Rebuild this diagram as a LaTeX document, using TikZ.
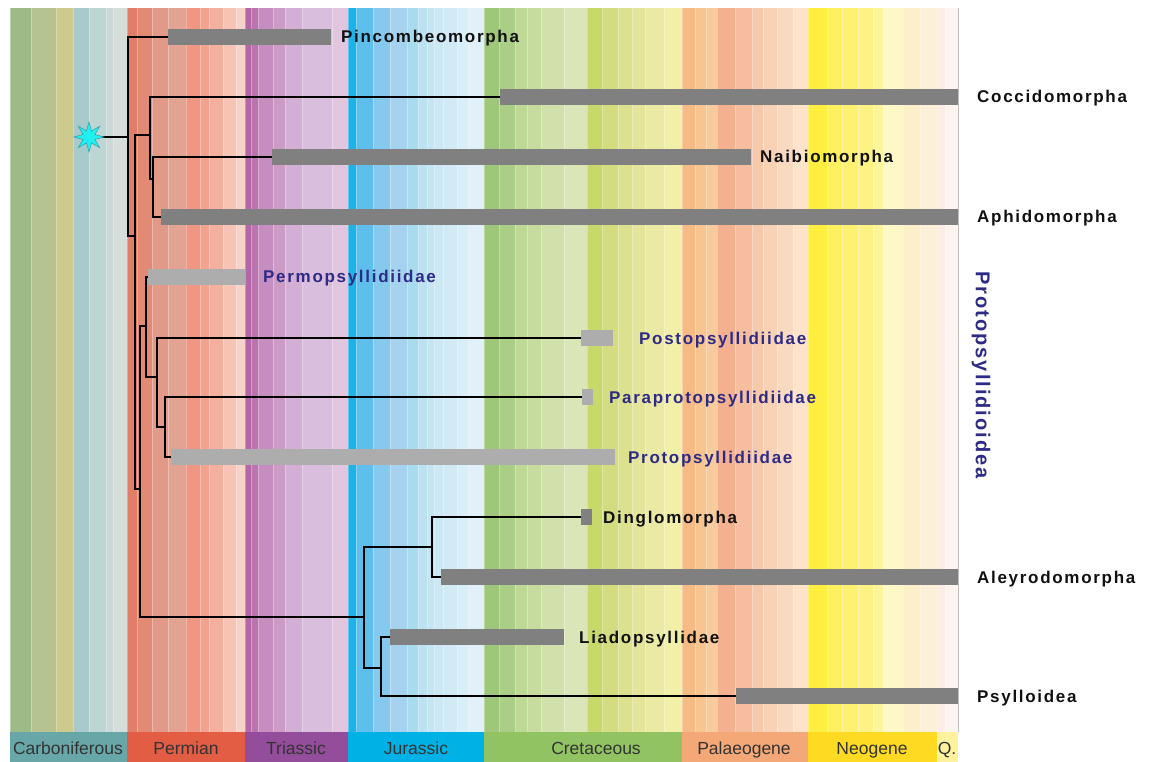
\documentclass[tikz,border=0pt]{standalone}
\usepackage{fontspec}
\usetikzlibrary{shapes.geometric}
\newfontfamily\labfont{Liberation Sans}[LetterSpace=10]
\newfontfamily\perfont{Liberation Sans}
\definecolor{barD}{HTML}{808080}
\definecolor{barL}{HTML}{ADADAD}
\definecolor{blueLab}{HTML}{2E2B86}
\definecolor{blackLab}{HTML}{111111}
\definecolor{perText}{HTML}{333333}
\definecolor{starFill}{HTML}{22EEF0}
\definecolor{starLine}{HTML}{2A9FA6}
\tikzset{
  br/.style={draw=black, line width=2.1pt, line join=miter},
  bardark/.style={fill=barD, draw=none, inner sep=0pt, minimum height=16pt, anchor=west},
  barlight/.style={fill=barL, draw=none, inner sep=0pt, minimum height=16pt, anchor=west},
  blab/.style={font=\labfont\bfseries\fontsize{17}{19}\selectfont, text=blackLab, anchor=base west, inner sep=0pt},
  ulab/.style={font=\labfont\bfseries\fontsize{17}{19}\selectfont, text=blueLab, anchor=base west, inner sep=0pt},
  perlab/.style={font=\perfont\fontsize{17.5}{19}\selectfont, text=perText, inner sep=0pt, anchor=base}
}
\begin{document}
\begin{tikzpicture}[x=1pt,y=-1pt]
\useasboundingbox (0,0) rectangle (1154,762);
\fill[white] (0,0) rectangle (1154,762);
% background stripes
\foreach \a/\b/\c in {
10/31/9DBB86,31/56/B6C28F,56/73/CCCB8D,73/89/A9CACD,89/106/BED6D3,106/113/CAD9D7,113/127/D5DEDB,
127/137/E07E69,137/152/E38A75,152/168/E29987,168/186/E3A392,186/200/F09683,200/209/F2A38F,209/223/F4B09E,223/236/F6C3B5,236/245/F7D2C7,
245/251/B466A6,251/258/BB74AE,258/273/C58DC0,273/285/CC9CC7,285/302/D3AFD5,302/332/DABEDD,332/348/E2C6E0,
348/356/1DB3E9,356/373/5EBFEC,373/390/86C9EE,390/407/A5D3EF,407/418/A8DBEE,418/427/BCE2F1,427/434/C5E5F2,434/443/CCE8F5,443/457/D2EAF6,457/468/D8EEF8,468/484/E0F1FA,
484/499/9FC77A,499/515/ABCE87,515/527/BED895,527/541/C6DC9F,541/564/D1E1AB,564/587/DBE6B8,587/602/C8D86B,602/618/D3DC7E,618/632/DCE18E,632/645/E4E59B,645/664/EBEAA5,664/682/F1EFA8,
682/695/F6BB85,695/706/F8C490,706/717/F8CB9C,717/735/F4B08F,735/752/F6BE9E,752/763/F7C9AB,763/777/F9D2B5,777/793/FAD9C1,793/808/FCE3C9,
808/827/FDEE40,827/842/FEF05E,842/858/FEF172,858/873/FEF283,873/883/FDF59C,883/903/FEF8C8,903/920/FDEFC9,920/937/FDF0D9,937/945/FCEEE6,945/958/FDF4F0}
{
  \definecolor{tmpc}{HTML}{\c}
  \fill[tmpc] (\a,8) rectangle (\b,732);
  \draw[white, opacity=0.3, line width=0.7pt] (\a,8) -- (\a,732);
}
\draw[gray!50, line width=1.2pt] (958.5,8) -- (958.5,732);
% period bar
\foreach \a/\b/\c/\t/\m in {
10/127/68A7A8/Carboniferous/68,127/245/E35D45/Permian/186,245/348/944D9A/Triassic/296,348/484/00B1E5/Jurassic/416,
484/682/92C363/Cretaceous/596,682/808/F4A877/Palaeogene/744,808/937/FEDA22/Neogene/872,937/958/FFF29F/Q./947}
{
  \definecolor{tmpc}{HTML}{\c}
  \fill[tmpc] (\a,732) rectangle (\b,762);
  \node[perlab] (per\t) at (\m,754.3) {\t};
}
% bars
\node[bardark] (bPinc) at (168,37) [minimum width=163pt] {};
\node[bardark] (bCocci) at (500,97) [minimum width=458pt] {};
\node[bardark] (bNaib) at (272,157) [minimum width=479pt] {};
\node[bardark] (bAphid) at (161,217) [minimum width=797pt] {};
\node[barlight] (bPerm) at (148,277) [minimum width=97pt] {};
\node[barlight] (bPost) at (581,338) [minimum width=32pt] {};
\node[barlight] (bPara) at (582,397) [minimum width=11pt] {};
\node[barlight] (bProt) at (171,457) [minimum width=444pt] {};
\node[bardark] (bDing) at (581,517) [minimum width=11pt] {};
\node[bardark] (bAley) at (441,577) [minimum width=517pt] {};
\node[bardark] (bLiad) at (390,637) [minimum width=174pt] {};
\node[bardark] (bPsyl) at (736,696) [minimum width=222pt] {};
% labels
\node[blab] (lPinc) at (341,43) {Pincombeomorpha};
\node[blab] (lCocci) at (977,103) {Coccidomorpha};
\node[blab] (lNaib) at (760,163) {Naibiomorpha};
\node[blab] (lAphid) at (977,223) {Aphidomorpha};
\node[ulab] (lPerm) at (263,283) {Permopsyllidiidae};
\node[ulab] (lPost) at (639,344) {Postopsyllidiidae};
\node[ulab] (lPara) at (609,403) {Paraprotopsyllidiidae};
\node[ulab] (lProt) at (628,463) {Protopsyllidiidae};
\node[blab] (lDing) at (603,523) {Dinglomorpha};
\node[blab] (lAley) at (977,583) {Aleyrodomorpha};
\node[blab] (lLiad) at (579,643) {Liadopsyllidae};
\node[blab] (lPsyl) at (977,702) {Psylloidea};
\node[font=\labfont\bfseries\fontsize{20}{22}\selectfont, text=blueLab, rotate=-90, inner sep=0pt] (lSuper) at (981,375) {Protopsyllidioidea};
% internal nodes
\coordinate (R) at (128,137);
\coordinate (A) at (135,236);
\coordinate (B) at (150,135);
\coordinate (C) at (153,179);
\coordinate (D) at (140,489);
\coordinate (E) at (146,326);
\coordinate (F) at (157,377);
\coordinate (G) at (165,427);
\coordinate (H) at (364,617);
\coordinate (I) at (432,547);
\coordinate (J) at (381,668);
% tree
\draw[br] (89,137) -- (R);
\draw[br] (bPinc.west) -| (R) |- (A);
\draw[br] (B) -| (A) |- (D);
\draw[br] (bCocci.west) -| (B) |- (C);
\draw[br] (bNaib.west) -| (C) |- (bAphid.west);
\draw[br] (E) -| (D) |- (H);
\draw[br] (bPerm.west) -| (E) |- (F);
\draw[br] (bPost.west) -| (F) |- (G);
\draw[br] (bPara.west) -| (G) |- (bProt.west);
\draw[br] (I) -| (H) |- (J);
\draw[br] (bDing.west) -| (I) |- (bAley.west);
\draw[br] (bLiad.west) -| (J) |- (bPsyl.west);
\node[star, star points=8, star point ratio=2.3, minimum size=30pt, inner sep=0pt, fill=starFill, draw=starLine, line width=0.5pt] (star) at (89,137) {};
\end{tikzpicture}
\end{document}
